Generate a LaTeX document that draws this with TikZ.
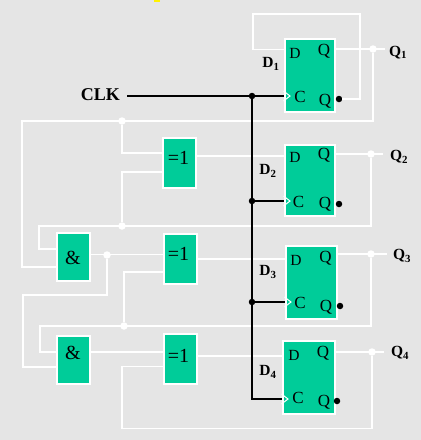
\documentclass[tikz,border=0pt]{standalone}
\usepackage{fontspec}
\setmainfont{Liberation Serif}
\definecolor{panelgray}{HTML}{E5E5E5}
\definecolor{boxgreen}{HTML}{00CC99}
\begin{document}
\begin{tikzpicture}[x=1pt,y=-1pt,ffbox/.style={draw=white,line width=2pt,fill=boxgreen,inner sep=0pt},pin/.style={font=\fontsize{17}{17}\selectfont,inner sep=0pt},dpin/.style={font=\fontsize{15.5}{15.5}\selectfont,inner sep=0pt},gatetext/.style={font=\fontsize{20}{20}\selectfont,inner sep=0pt},tag/.style={font=\bfseries\fontsize{15.5}{15.5}\selectfont,inner sep=0pt},wwire/.style={draw=white,line width=1.5pt},bwire/.style={draw=black,line width=1.8pt},clkmark/.style={draw=white,line width=1pt},wdot/.style={circle,fill=white,inner sep=0pt,minimum size=7.5pt},bdot/.style={circle,fill=black,inner sep=0pt,minimum size=6.5pt}]
\fill[panelgray] (0,0) rectangle (421,440);
\useasboundingbox (0,0) rectangle (421,440);
\fill[yellow] (154,0) rectangle (160,2);
% flip-flops
\node[ffbox,minimum width=50pt,minimum height=73pt] (ffa) at (309.5,75) {};
\node[ffbox,minimum width=50pt,minimum height=71pt] (ffb) at (309.5,180) {};
\node[ffbox,minimum width=51pt,minimum height=73pt] (ffc) at (311,282) {};
\node[ffbox,minimum width=52pt,minimum height=73pt] (ffd) at (308.5,377) {};
% gates
\node[ffbox,minimum width=33pt,minimum height=50pt] (xora) at (179.5,163) {};
\node[ffbox,minimum width=33pt,minimum height=50pt] (xorb) at (180.5,259) {};
\node[ffbox,minimum width=33pt,minimum height=50pt] (xorc) at (180.5,359) {};
\node[ffbox,minimum width=33pt,minimum height=48pt] (anda) at (73.5,257) {};
\node[ffbox,minimum width=33pt,minimum height=48pt] (andb) at (73.5,360) {};
% junctions
\node[wdot] (ja) at (373,49) {};
\node[wdot] (jb) at (371,154) {};
\node[wdot] (jc) at (371,254) {};
\node[wdot] (jd) at (372,352) {};
\node[wdot] (je) at (122,121) {};
\node[wdot] (jf) at (122,226) {};
\node[wdot] (jg) at (107,255) {};
\node[wdot] (jh) at (124,326) {};
\node[bdot] (ka) at (252,96) {};
\node[bdot] (kb) at (252,201) {};
\node[bdot] (kc) at (252,302) {};
\node[bdot] (qa) at (339,99) {};
\node[bdot] (qb) at (339,204) {};
\node[bdot] (qc) at (340,306) {};
\node[bdot] (qd) at (337,401) {};
% labels
\node[tag,font=\bfseries\fontsize{18}{18}\selectfont] (clk) at (100.5,95) {CLK};
\node[tag] (outa) at (398,52.5) {Q\textsubscript{1}};
\node[tag] (outb) at (399,157) {Q\textsubscript{2}};
\node[tag] (outc) at (402,256) {Q\textsubscript{3}};
\node[tag] (outd) at (400,353) {Q\textsubscript{4}};
\node[tag] (da) at (271,64) {D\textsubscript{1}};
\node[tag] (db) at (268,171) {D\textsubscript{2}};
\node[tag] (dc) at (268,272) {D\textsubscript{3}};
\node[tag] (dd) at (268,372) {D\textsubscript{4}};
\node[dpin] (pda) at (295,53) {D};
\node[pin] (pqa) at (324,51) {Q};
\node[pin] (pca) at (300,96.5) {C};
\node[pin] (pna) at (325,101) {Q};
\node[dpin] (pdb) at (295,157) {D};
\node[pin] (pqb) at (324,155) {Q};
\node[pin] (pcb) at (298.5,202) {C};
\node[pin] (pnb) at (325,204) {Q};
\node[dpin] (pdc) at (296,260) {D};
\node[pin] (pqc) at (325.5,258) {Q};
\node[pin] (pcc) at (300,303) {C};
\node[pin] (pnc) at (326,307) {Q};
\node[dpin] (pdd) at (294,355) {D};
\node[pin] (pqd) at (323,353) {Q};
\node[pin] (pcd) at (298,398) {C};
\node[pin] (pnd) at (324,402) {Q};
\node[gatetext] (txa) at (178.5,158) {=1};
\node[gatetext] (txb) at (178.5,254) {=1};
\node[gatetext] (txc) at (178.5,356) {=1};
\node[gatetext] (txd) at (73,258) {\&};
\node[gatetext] (txe) at (73,353) {\&};
% bend points
\coordinate (qendA) at (385,49);\coordinate (qendB) at (383,154);\coordinate (qendC) at (387,254);\coordinate (qendD) at (384,352);
% white wires
\draw[wwire] (ffa.east |- ja) -- (qendA);\draw[wwire] (ffb.east |- jb) -- (qendB);\draw[wwire] (ffc.east |- jc) -- (qendC);\draw[wwire] (ffd.east |- jd) -- (qendD);
\draw[wwire] (ffa.west |- 0,49.5) -- (253,49.5) -- (253,14) -- (360,14) -- (360,99) -- (qa);
\draw[wwire] (ja) -- (373,121) -- (22,121) -- (22,267) -- (anda.west |- 0,267);
\draw[wwire] (je) -- (122,153) -- (xora.west |- 0,153);
\draw[wwire] (xora.east |- 0,156) -- (ffb.west |- 0,156);
\draw[wwire] (jb) -- (371,226) -- (39,226) -- (39,249) -- (anda.west |- 0,249);
\draw[wwire] (jf) -- (122,172) -- (xora.west |- 0,172);
\draw[wwire] (anda.east |- 0,254.5) -- (xorb.west |- 0,254.5);
\draw[wwire] (jg) -- (107,295) -- (23,295) -- (23,367) -- (andb.west |- 0,367);
\draw[wwire] (xorb.west |- 0,272) -- (124,272) -- (jh);
\draw[wwire] (jc) -- (371,326) -- (40,326) -- (40,352) -- (andb.west |- 0,352);
\draw[wwire] (xorb.east |- 0,259) -- (ffc.west |- 0,259);
\draw[wwire] (andb.east |- 0,352) -- (xorc.west |- 0,352);
\draw[wwire] (xorc.west |- 0,366.5) -- (122,366.5) -- (122,428.5) -- (372,428.5) -- (jd);
\draw[wwire] (xorc.east |- 0,356) -- (ffd.west |- 0,356);
% black clock wires
\draw[bwire] (127,96) -- (ffa.west |- ka);
\draw[bwire] (ka) -- (252,399) -- (ffd.west |- 0,399);
\draw[bwire] (kb) -- (ffb.west |- kb);
\draw[bwire] (kc) -- (ffc.west |- kc);
% clock marks
\draw[clkmark] (ffa.west |- 0,91) -- ++(6.5,5) -- ++(-6.5,5);
\draw[clkmark] (ffb.west |- 0,196) -- ++(6.5,5) -- ++(-6.5,5);
\draw[clkmark] (ffc.west |- 0,297) -- ++(6.5,5) -- ++(-6.5,5);
\draw[clkmark] (ffd.west |- 0,394) -- ++(6.5,5) -- ++(-6.5,5);
\end{tikzpicture}
\end{document}
